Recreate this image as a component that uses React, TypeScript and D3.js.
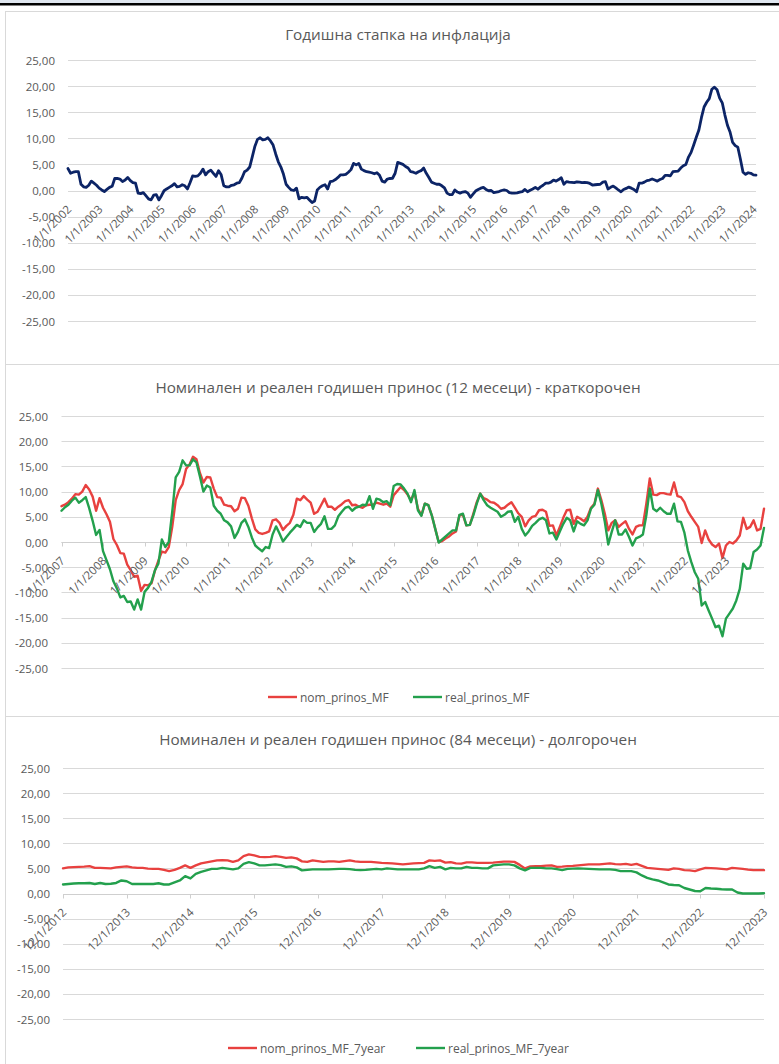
import * as d3 from "d3";

// Годишна стапка на инфлација, monthly from 1/1/2002
const inflation = [
  4.2, 3.3, 3.5, 3.6, 3.6, 1.2, 0.7, 0.6, 1.0, 1.8, 1.4, 1.0,
  0.45, 0.1, -0.2, 0.2, 0.6, 0.8, 2.3, 2.3, 2.2, 1.7, 2.0, 2.5,
  1.9, 1.5, 1.4, -0.5, -0.6, -0.4, -1.0, -1.6, -1.8, -0.9, -0.8, -1.8,
  -1.0, -0.05, 0.3, 0.6, 0.9, 1.3, 0.7, 0.8, 1.1, 0.9, 0.3, 1.5,
  2.8, 2.7, 2.8, 3.3, 4.1, 3.0, 3.6, 3.9, 3.3, 2.7, 3.8, 3.0,
  0.9, 0.7, 0.7, 1.0, 1.1, 1.4, 1.5, 2.4, 3.6, 3.9, 4.5, 6.5,
  8.5, 9.8, 10.1, 9.7, 9.8, 10.1, 9.5, 8.7, 7.0, 5.5, 4.5, 3.1,
  1.2, 0.6, 0.1, 0.0, 0.45, -1.6, -1.3, -1.4, -1.3, -1.8, -2.3, -2.0,
  0.1, 0.6, 0.9, 1.1, 0.3, 1.7, 1.8, 2.1, 2.5, 3.0, 3.0, 3.1,
  3.5, 4.0, 5.2, 4.9, 5.2, 4.1, 3.8, 3.6, 3.5, 3.4, 3.2, 3.4,
  2.9, 1.8, 1.6, 2.2, 2.3, 2.35, 3.3, 5.4, 5.2, 5.0, 4.6, 4.3,
  3.6, 3.5, 3.3, 3.6, 3.8, 4.3, 3.3, 2.5, 1.6, 1.4, 1.2, 1.2,
  0.9, 0.5, -0.5, -0.8, -0.8, 0.1, -0.3, -0.5, -0.3, -0.2, -0.5, -1.3,
  -0.7, -0.1, 0.2, 0.45, 0.6, 0.2, -0.05, 0.0, -0.4, -0.3, -0.2, 0.0,
  0.1, 0.0, -0.4, -0.5, -0.5, -0.45, -0.3, -0.2, 0.2, -0.25, 0.05, 0.3,
  0.6, 0.25, 0.7, 1.0, 1.4, 1.4, 1.6, 2.0, 1.8, 2.1, 2.45, 1.2,
  1.7, 1.6, 1.55, 1.5, 1.65, 1.6, 1.5, 1.55, 1.5, 1.35, 1.05, 1.1,
  1.15, 1.2, 1.6, 1.7, 0.3, 0.6, 0.85, 0.5, 0.1, -0.25, 0.2, 0.4,
  0.65, 0.45, 0.2, -0.25, 1.4, 1.4, 1.6, 1.9, 2.0, 2.2, 2.0, 1.8,
  2.1, 2.3, 2.9, 2.9, 2.8, 3.6, 3.65, 3.7, 4.3, 4.75, 5.0, 6.4,
  7.3, 8.7, 10.2, 11.6, 14.0, 16.0, 16.9, 17.6, 19.4, 19.8, 19.3, 17.7,
  16.8, 14.5, 12.5, 11.2, 9.2, 8.6, 8.3, 6.0, 3.5, 3.1, 3.4, 3.3,
  3.0, 2.95,
];

// 12-month returns, monthly from 1/1/2007
const nomPrinosMF = [
  7.1, 7.4, 7.9, 8.6, 9.5, 9.4, 10.0, 11.3, 10.4, 9.0, 6.2, 8.7,
  6.8, 5.5, 4.0, 0.6, -0.6, -2.2, -2.3, -4.5, -5.6, -6.9, -6.7, -9.7,
  -8.5, -8.6, -8.2, -5.7, -3.7, -1.9, -2.1, -1.0, 3.0, 8.3, 10.3, 11.5,
  14.5, 15.4, 16.9, 16.4, 13.7, 11.8, 12.9, 12.8, 10.6, 8.9, 8.8, 7.4,
  7.2, 7.1, 6.1, 6.6, 8.8, 8.7, 7.2, 4.7, 2.5, 1.8, 1.6, 1.8,
  2.1, 4.3, 4.5, 3.8, 2.4, 3.2, 3.8, 5.4, 8.6, 8.3, 9.1, 8.4,
  7.8, 5.6, 6.0, 7.3, 8.6, 7.0, 7.0, 6.4, 7.0, 7.5, 8.1, 8.3,
  7.3, 7.4, 7.0, 6.8, 7.3, 7.4, 7.4, 7.8, 7.6, 7.4, 7.6, 7.0,
  9.3, 10.1, 10.9, 10.3, 9.4, 8.3, 9.9, 6.6, 5.3, 7.6, 7.3, 5.3,
  2.6, 0.0, 0.2, 0.7, 1.1, 1.7, 2.1, 5.3, 5.4, 3.3, 3.4, 5.6,
  7.9, 9.6, 8.7, 8.4, 7.9, 7.8, 7.3, 6.6, 6.8, 7.4, 7.9, 6.8,
  5.7, 5.0, 3.1, 4.3, 5.0, 5.2, 6.3, 6.4, 6.0, 3.2, 3.3, 1.3,
  3.0, 4.8, 6.3, 6.4, 3.6, 5.0, 4.6, 4.1, 5.0, 6.8, 7.6, 10.6,
  8.3, 5.6, 2.3, 3.8, 4.3, 3.0, 3.6, 4.1, 2.6, 1.5, 3.0, 3.3,
  3.3, 7.6, 12.6, 9.4, 9.3, 9.7, 9.7, 9.5, 9.4, 11.8, 9.1, 8.9,
  7.9, 6.1, 5.0, 4.0, 3.0, -0.2, 2.3, 0.5, -0.5, -1.0, -0.3, -3.2,
  -0.7, 0.0, -0.3, 0.3, 1.3, 4.8, 2.6, 3.0, 4.3, 2.3, 2.6, 6.6,
];

const realPrinosMF = [
  6.2, 6.9, 7.4, 8.2, 8.8, 7.8, 8.3, 8.9, 6.7, 4.2, 1.4, 2.4,
  -1.8, -3.6, -5.4, -7.8, -9.2, -11.0, -10.7, -11.9, -11.8, -13.4, -11.4, -13.4,
  -9.9, -9.1, -7.9, -5.6, -4.3, 0.5, -1.0, 0.0, 6.0, 12.8, 13.9, 16.2,
  15.2, 15.2, 16.4, 15.8, 13.0, 10.0, 11.2, 10.8, 7.2, 6.2, 5.6, 4.3,
  3.9, 3.1, 0.8, 2.0, 3.8, 4.5, 3.0, 0.9, -0.7, -1.3, -1.85, -1.0,
  -1.2, 1.5, 3.1, 1.7, 0.1, 1.0, 1.85, 2.6, 3.4, 3.0, 4.3, 3.8,
  3.8, 2.0, 2.9, 3.6, 5.1, 2.6, 2.6, 3.3, 5.1, 6.0, 6.8, 7.0,
  6.2, 6.8, 7.0, 7.4, 7.3, 9.1, 6.6, 8.6, 8.4, 7.9, 8.1, 7.3,
  11.1, 11.5, 11.4, 10.6, 9.6, 7.9, 10.3, 6.3, 5.2, 7.6, 7.3, 5.3,
  2.6, -0.1, 0.5, 1.1, 1.7, 2.3, 2.3, 5.4, 5.6, 3.3, 3.4, 5.3,
  7.6, 9.6, 8.3, 7.3, 6.8, 6.4, 6.0, 5.0, 5.4, 6.0, 6.1, 4.0,
  5.0, 2.6, 1.3, 2.1, 3.2, 3.8, 4.5, 4.8, 4.3, 1.7, 1.85, 0.5,
  2.1, 3.6, 4.8, 4.3, 2.1, 4.1, 3.6, 3.3, 4.3, 6.6, 7.4, 10.3,
  7.6, 4.0, -0.5, 2.0, 4.3, 1.5, 1.5, 2.5, 1.0, -0.7, 0.7, 1.0,
  1.5, 5.3, 10.6, 6.6, 6.1, 6.8, 6.1, 5.6, 5.6, 7.6, 4.1, 4.0,
  1.85, -1.7, -4.0, -6.0, -7.3, -12.6, -11.9, -13.6, -15.2, -16.9, -16.6, -18.7,
  -15.2, -14.2, -13.2, -11.6, -9.3, -4.3, -5.3, -5.2, -2.0, -1.5, -0.7, 2.8,
];

// 84-month returns, monthly from 12/1/2012
const nomPrinos7y = [
  5.0, 5.2, 5.25, 5.3, 5.35, 5.45, 5.1, 5.1, 5.05, 5.0, 5.2, 5.3,
  5.4, 5.2, 5.1, 5.1, 4.95, 4.9, 4.9, 4.7, 4.45, 4.7, 5.1, 5.6,
  5.1, 5.6, 6.0, 6.2, 6.4, 6.6, 6.65, 6.6, 6.3, 6.6, 7.45, 7.8,
  7.6, 7.3, 7.25, 7.3, 7.45, 7.3, 7.1, 7.2, 7.0, 6.4, 6.3, 6.6,
  6.45, 6.3, 6.4, 6.4, 6.3, 6.45, 6.6, 6.4, 6.3, 6.3, 6.3, 6.2,
  6.1, 6.05, 6.0, 5.9, 5.8, 5.9, 6.0, 6.05, 6.1, 6.6, 6.5, 6.6,
  6.15, 6.25, 6.0, 5.95, 6.2, 6.2, 6.1, 6.1, 6.1, 6.15, 6.25, 6.35,
  6.35, 6.3, 5.7, 5.0, 5.4, 5.45, 5.45, 5.55, 5.6, 5.3, 5.35, 5.45,
  5.5, 5.6, 5.7, 5.8, 5.8, 5.8, 5.9, 6.0, 5.85, 5.8, 5.9, 5.7,
  5.9, 5.5, 5.1, 5.0, 4.9, 4.8, 4.7, 5.0, 4.9, 4.65, 4.6, 4.45,
  4.8, 5.1, 5.05, 5.0, 4.9, 4.8, 5.1, 5.0, 4.9, 4.75, 4.65, 4.65,
  4.65,
];

const realPrinos7y = [
  1.8, 1.9, 2.0, 2.05, 2.05, 2.1, 1.9, 2.1, 1.9, 1.95, 2.1, 2.6,
  2.45, 1.9, 1.9, 1.9, 1.9, 1.9, 2.05, 1.8, 1.8, 2.2, 2.6, 3.45,
  3.0, 3.9, 4.3, 4.6, 4.9, 4.9, 5.1, 4.95, 4.8, 5.0, 5.9, 6.25,
  6.0, 5.6, 5.6, 5.7, 5.8, 5.65, 5.3, 5.4, 5.2, 4.6, 4.7, 4.8,
  4.8, 4.8, 4.8, 4.85, 4.9, 4.9, 4.85, 4.7, 4.65, 4.7, 4.8, 4.9,
  4.8, 5.0, 4.9, 4.8, 4.8, 4.8, 4.8, 4.8, 5.0, 5.45, 5.1, 5.3,
  4.8, 5.1, 5.0, 5.0, 5.3, 5.1, 5.1, 5.0, 5.0, 5.6, 5.7, 5.8,
  5.8, 5.6, 5.0, 4.6, 5.1, 5.1, 5.1, 5.0, 5.0, 4.85, 4.65, 4.9,
  4.95, 5.0, 4.95, 4.9, 4.85, 4.8, 4.8, 4.8, 4.7, 4.45, 4.45, 4.45,
  4.2, 3.6, 3.1, 2.8, 2.6, 2.2, 1.8, 1.7, 1.65, 1.1, 0.8, 0.5,
  0.45, 1.1, 1.0, 0.95, 0.85, 0.8, 0.8, 0.2, 0.0, 0.0, 0.0, 0.0,
  0.05,
];

const yTicks = [25, 20, 15, 10, 5, 0, -5, -10, -15, -20, -25];
const inflTickLabels = d3.range(2002, 2025).map((y) => `1/1/${y}`);
const shortTickLabels = d3.range(2007, 2024).map((y) => `1/1/${y}`);
const longTickLabels = d3.range(2012, 2024).map((y) => `12/1/${y}`);

const FONT = "'Open Sans', 'Noto Sans', sans-serif";
const TEXT = "#595959";
const GRID = "#d9d9d9";
const NAVY = "#0c2466";
const RED = "#e8413f";
const GREEN = "#23a04d";

const fmt = (v: number) => d3.format(".2f")(v).replace(".", ",").replace("−", "-");

type Series = { name: string; values: number[]; color: string; width: number };
type Legend = { y: number; items: { x: number }[] };

type PanelProps = {
  top: number;
  bottom: number;
  title: string;
  titleY: number;
  plotLeft: number;
  plotRight: number;
  yTop: number;
  yBottom: number;
  labelRight: number;
  tickLabels: string[];
  showTicks: boolean;
  series: Series[];
  legend?: Legend;
};

function Panel(p: PanelProps) {
  const n = d3.max(p.series, (s) => s.values.length) ?? 1;
  const x = d3.scaleLinear().domain([0, n - 1]).range([p.plotLeft, p.plotRight]);
  const y = d3.scaleLinear().domain([-25, 25]).range([p.yBottom, p.yTop]);
  const line = d3
    .line<number>()
    .x((_, i) => x(i))
    .y((d) => y(d));
  const y0 = Math.round(y(0)) + 0.5;

  return (
    <g>
      <rect
        x={5.5}
        y={p.top + 0.5}
        width={800}
        height={p.bottom - p.top}
        fill="#fff"
        stroke={GRID}
      />
      <text x={398} y={p.titleY} textAnchor="middle" fontSize={15.3} fill={TEXT}>
        {p.title}
      </text>
      {yTicks.map((t) => (
        <g key={t}>
          <line
            x1={p.plotLeft}
            x2={p.plotRight}
            y1={Math.round(y(t)) + 0.5}
            y2={Math.round(y(t)) + 0.5}
            stroke={GRID}
          />
          <text
            x={p.labelRight}
            y={y(t)}
            textAnchor="end"
            dominantBaseline="central"
            fontSize={11.5}
            fill={TEXT}
          >
            {fmt(t)}
          </text>
        </g>
      ))}
      {p.showTicks && (
        <g>
          <line x1={p.plotLeft} x2={p.plotRight} y1={y0} y2={y0} stroke="#cfcfcf" />
          {p.tickLabels.map((_, k) => (
            <line
              key={k}
              x1={Math.round(x(k * 12)) + 0.5}
              x2={Math.round(x(k * 12)) + 0.5}
              y1={y0}
              y2={y0 + 4}
              stroke="#cfcfcf"
            />
          ))}
        </g>
      )}
      {p.series.map((s) => (
        <path
          key={s.name}
          d={line(s.values) ?? ""}
          fill="none"
          stroke={s.color}
          strokeWidth={s.width}
          strokeLinejoin="round"
          strokeLinecap="round"
        />
      ))}
      {p.tickLabels.map((lab, k) => (
        <text
          key={lab}
          transform={`translate(${x(k * 12) + 1},${y(0) + 16.5}) rotate(-45)`}
          textAnchor="end"
          dominantBaseline="central"
          fontSize={11.5}
          fill={TEXT}
        >
          {lab}
        </text>
      ))}
      {p.legend &&
        p.series.map((s, k) => {
          const lx = p.legend!.items[k].x;
          return (
            <g key={s.name}>
              <line
                x1={lx}
                x2={lx + 29}
                y1={p.legend!.y}
                y2={p.legend!.y}
                stroke={s.color}
                strokeWidth={s.width}
              />
              <text
                x={lx + 32}
                y={p.legend!.y}
                dominantBaseline="central"
                fontSize={12}
                fill={TEXT}
              >
                {s.name}
              </text>
            </g>
          );
        })}
    </g>
  );
}

export default function App() {
  return (
    <svg
      width={779}
      height={1064}
      style={{ position: "absolute", left: 0, top: 0, fontFamily: FONT }}
    >
      <rect x={0} y={0} width={779} height={1064} fill="#fff" />
      <rect x={0} y={0} width={779} height={3} fill="#dfe6ef" />
      <rect x={0} y={3} width={779} height={2.5} fill="#000" />
      <Panel
        top={11}
        bottom={364}
        title="Годишна стапка на инфлација"
        titleY={40}
        plotLeft={68}
        plotRight={756}
        yTop={60}
        yBottom={321}
        labelRight={55}
        tickLabels={inflTickLabels}
        showTicks={false}
        series={[{ name: "inflacija", values: inflation, color: NAVY, width: 2.8 }]}
      />
      <Panel
        top={364}
        bottom={716}
        title="Номинален и реален годишен принос (12 месеци) - краткорочен"
        titleY={393}
        plotLeft={61.5}
        plotRight={764}
        yTop={416}
        yBottom={668}
        labelRight={48}
        tickLabels={shortTickLabels}
        showTicks={true}
        series={[
          { name: "nom_prinos_MF", values: nomPrinosMF, color: RED, width: 2.4 },
          { name: "real_prinos_MF", values: realPrinosMF, color: GREEN, width: 2.4 },
        ]}
        legend={{ y: 697, items: [{ x: 268 }, { x: 413 }] }}
      />
      <Panel
        top={716}
        bottom={1070}
        title="Номинален и реален годишен принос (84 месеци) - долгорочен"
        titleY={745}
        plotLeft={63}
        plotRight={764}
        yTop={768}
        yBottom={1019}
        labelRight={50}
        tickLabels={longTickLabels}
        showTicks={true}
        series={[
          { name: "nom_prinos_MF_7year", values: nomPrinos7y, color: RED, width: 2.4 },
          { name: "real_prinos_MF_7year", values: realPrinos7y, color: GREEN, width: 2.4 },
        ]}
        legend={{ y: 1048, items: [{ x: 228 }, { x: 416 }] }}
      />
    </svg>
  );
}
